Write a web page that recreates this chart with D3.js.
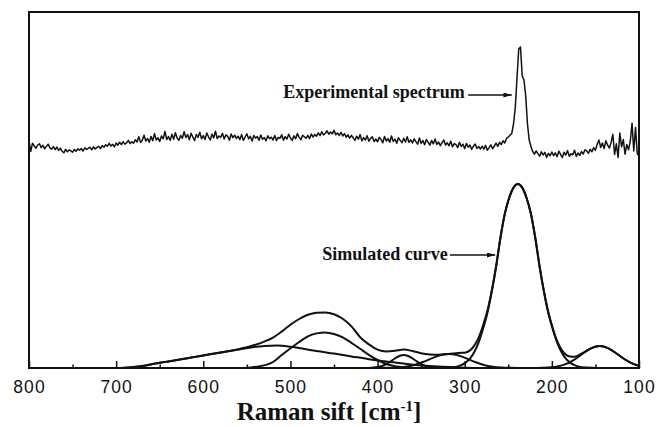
<!DOCTYPE html>
<html>
<head>
<meta charset="utf-8">
<script src="https://cdn.jsdelivr.net/npm/d3@7"></script>
<style>
  html, body { margin: 0; padding: 0; background: #fff; }
  svg { display: block; }
</style>
</head>
<body>
<svg id="chart" width="657" height="427"></svg>
<script>
// Measured Raman spectrum: shift grid (cm-1, 2 cm-1 steps) and intensity (a.u.)
const expShift = d3.range(800, 99, -2);
const expIntensity = [
  113.4,108.3,112.4,111.0,109.9,111.5,112.1,110.2,111.3,109.6,110.8,111.9,110.1,109.4,110.7,109.2,110.5,108.8,109.9,108.4,
  107.6,109.3,108.1,109.0,108.6,107.9,109.2,108.4,109.6,108.9,109.7,108.5,110.1,109.3,109.8,110.4,109.1,110.6,109.5,110.3,
  110.8,109.7,111.2,110.4,111.6,110.9,112.3,111.0,111.8,110.6,112.5,111.4,112.9,111.7,113.2,111.9,112.6,113.8,112.2,113.1,
  112.4,114.1,113.0,115.6,112.8,113.9,116.4,113.5,114.7,112.9,115.8,113.6,117.2,114.0,115.1,113.3,116.0,114.6,118.3,114.2,
  115.7,113.8,116.9,114.4,117.6,115.0,113.9,116.3,114.8,118.1,115.2,116.7,114.1,117.4,115.5,113.7,116.8,115.3,117.9,114.6,
  116.2,114.3,117.5,115.6,114.0,116.9,115.1,118.4,114.7,116.0,115.4,117.3,114.5,116.6,115.8,113.9,117.0,115.2,116.4,114.8,
  115.9,114.2,116.7,113.8,115.5,117.1,114.6,115.8,113.5,116.3,114.9,115.7,113.9,116.5,114.4,115.2,113.6,116.1,114.7,115.4,
  114.0,116.2,113.7,115.3,114.8,116.6,113.9,115.7,114.5,116.9,115.0,113.8,116.1,114.6,117.2,115.3,114.2,116.4,115.6,114.9,
  116.3,114.7,117.0,115.4,116.8,115.9,117.6,116.2,118.1,116.5,117.4,118.6,116.9,118.0,117.1,118.8,116.7,117.5,116.3,117.8,
  116.0,117.2,115.4,116.6,114.9,116.3,115.1,113.8,115.9,114.4,116.7,113.6,115.2,114.0,116.1,113.4,114.8,115.6,113.2,114.5,
  113.1,115.3,114.2,112.6,115.8,113.5,114.7,112.9,116.0,113.3,114.4,112.4,115.1,113.8,112.7,114.9,113.0,115.6,112.8,114.1,
  112.5,114.6,113.2,111.9,115.0,112.3,113.7,111.6,114.2,112.9,111.4,113.8,112.1,114.5,111.8,113.0,111.2,112.7,114.0,111.5,
  112.6,111.1,113.4,110.6,112.2,111.7,110.2,112.9,110.8,111.9,109.7,112.3,110.4,111.5,109.3,110.9,112.0,109.8,110.7,109.5,
  110.9,109.4,111.3,108.9,110.2,111.6,109.6,111.0,112.4,110.8,112.9,111.7,113.6,112.5,114.8,115.5,116.4,117.3,122.0,130.0,
  145.0,159.5,160.5,146.0,144.0,136.0,122.0,114.0,110.7,108.3,106.9,108.6,107.2,105.9,108.1,106.5,107.8,105.4,107.3,106.1,
  108.0,106.2,107.6,105.6,108.4,106.8,105.2,107.9,106.4,108.7,105.9,107.1,106.6,108.9,105.8,107.5,106.3,108.2,107.0,109.1,
  108.5,107.3,109.4,108.1,110.2,108.8,111.9,114.0,110.3,112.5,109.7,113.6,111.4,110.0,112.8,116.9,106.8,112.1,105.3,117.5,
  110.6,114.2,106.9,111.8,109.1,113.4,122.4,108.5,120.3,107.2,106.0
];

// Simulated curve (sum of the fitted bands), [shift, intensity]
const simTotal = [
  [800,0],[710,0],[700,0],[690,0.15],[680,0.5],[670,1.0],[660,1.8],[650,2.6],[640,3.3],[630,4.0],
  [620,4.8],[610,5.5],[600,6.3],[590,7.0],[580,7.8],[570,8.5],[560,9.3],[550,10.4],[540,11.6],[530,13.2],
  [520,15.2],[510,18.2],[500,21.6],[490,24.5],[480,26.6],[470,27.6],[460,27.8],[450,26.9],[440,24.6],[430,20.8],
  [420,15.4],[410,11.8],[400,9.2],[390,8.3],[380,8.6],[370,9.2],[360,8.5],[350,7.4],[340,6.8],[330,6.6],
  [320,7.0],[310,7.4],[304,7.6],[299,7.8],[294,8.8],[289,11.2],[284,15.2],[279,21.2],[274,28.6],[269,38.7],
  [264,50.9],[259,65.3],[254,77.2],[249,85.1],[244,90.2],[239,92.0],[234,90.2],[229,85.0],[224,77.0],[219,65.0],
  [214,50.6],[209,38.1],[204,27.7],[199,19.9],[194,13.5],[189,9.2],[184,6.7],[179,5.7],[174,5.6],[169,6.4],
  [164,7.65],[159,8.96],[154,10.1],[149,10.8],[145,11.0],[135,9.8],[125,7.0],[115,4.0],[105,1.8],[100,1.1]
];

// Fitted bands, [shift, intensity]
const bandBroad = [
  [720,0],[700,0],[685,0.3],[670,1.0],[655,2.2],[640,3.3],[620,4.8],[600,6.3],[580,7.8],[560,9.2],
  [545,10.3],[530,11.0],[515,11.2],[500,10.6],[485,9.6],[470,8.5],[450,7.2],[430,5.8],[410,4.4],[390,3.2],
  [370,2.2],[350,1.3],[330,0.7],[310,0.3],[290,0],[270,0]
];
const band460 = [
  [580,0],[560,0],[545,0.3],[535,0.9],[520,3.0],[510,6.5],[500,9.8],[490,13.0],[480,15.8],[470,17.3],
  [460,17.8],[450,17.0],[440,15.3],[430,12.6],[420,9.6],[410,6.6],[400,4.0],[390,2.0],[380,0.9],[370,0.3],
  [360,0],[340,0]
];
const band370 = [
  [420,0],[410,0.06],[400,0.45],[395,1.0],[390,2.0],[385,3.3],[380,4.8],[375,6.0],[370,6.5],[365,6.0],
  [360,4.8],[355,3.3],[350,2.0],[345,1.0],[340,0.45],[330,0.06],[320,0]
];
const band318 = [
  [398,0],[388,0.07],[378,0.23],[368,0.66],[358,1.54],[348,2.99],[338,4.80],[328,6.37],[318,7.0],[308,6.37],
  [298,4.80],[288,2.99],[278,1.54],[268,0.66],[258,0.23],[248,0.07],[238,0]
];
const band239 = [
  [339,0],[329,0],[319,0.2],[309,0.7],[304,1.4],[299,2.7],[294,4.7],[289,8.0],[284,12.8],[279,19.5],
  [274,27.5],[269,38.0],[264,50.5],[259,65.0],[254,77.0],[249,85.0],[244,90.2],[239,92.0],[234,90.2],[229,85.0],
  [224,77.0],[219,65.0],[214,50.5],[209,38.0],[204,27.5],[199,19.5],[194,12.8],[189,8.0],[184,4.7],[179,2.7],
  [174,1.4],[169,0.7],[159,0.2],[149,0],[139,0]
];
const band145 = [
  [225,0],[215,0.05],[205,0.19],[195,0.65],[185,1.79],[175,3.96],[165,6.99],[155,9.82],[145,11.0],[135,9.82],
  [125,6.99],[115,3.96],[105,1.79],[100,1.11]
];

const majorTicks = [800, 700, 600, 500, 400, 300, 200, 100];
const minorTicks = [750, 650, 550, 450, 350, 250, 150];

// Callouts: label end point and arrow from/to, in data units
const callouts = [
  { text: "Experimental spectrum", labelShift: 300, labelLevel: 134.8, fromShift: 296, toShift: 246, level: 136.5 },
  { text: "Simulated curve",       labelShift: 319.5, labelLevel: 54,  fromShift: 317, toShift: 265, level: 56.5 }
];

const svg = d3.select("#chart");
const x = d3.scaleLinear().domain([800, 100]).range([29, 639]);
const y = d3.scaleLinear().domain([0, 178]).range([368, 12]);

svg.append("rect").attr("width", 657).attr("height", 427).attr("fill", "#fff");

const defs = svg.append("defs");
defs.append("clipPath").attr("id", "plot-clip")
  .append("rect")
  .attr("x", x(800)).attr("y", y(178))
  .attr("width", x(100) - x(800)).attr("height", y(0) - y(178));

defs.append("marker")
  .attr("id", "arrowhead")
  .attr("viewBox", "0 0 10 6")
  .attr("refX", 10).attr("refY", 3)
  .attr("markerWidth", 9).attr("markerHeight", 5)
  .attr("markerUnits", "userSpaceOnUse")
  .attr("orient", "auto")
  .append("path").attr("d", "M0,0 L10,3 L0,6 Z").attr("fill", "#111");

const plot = svg.append("g").attr("clip-path", "url(#plot-clip)");

// measured spectrum
const expLine = d3.line()
  .x((d, i) => x(expShift[i]))
  .y(d => y(d));
plot.append("path")
  .datum(expIntensity)
  .attr("d", expLine)
  .attr("fill", "none")
  .attr("stroke", "#111")
  .attr("stroke-width", 1.5)
  .attr("stroke-linejoin", "round");

// fitted bands and their sum
const simLine = d3.line()
  .x(d => x(d[0]))
  .y(d => y(d[1]))
  .curve(d3.curveMonotoneX);
[bandBroad, band460, band370, band318, band239, band145, simTotal].forEach(series => {
  plot.append("path")
    .datum(series)
    .attr("d", simLine)
    .attr("fill", "none")
    .attr("stroke", "#111")
    .attr("stroke-width", 2)
    .attr("stroke-linejoin", "round");
});

// bottom axis with inward ticks
const axisG = svg.append("g").attr("transform", `translate(0,${y(0)})`);
axisG.call(d3.axisBottom(x).tickValues(majorTicks).tickSize(-7).tickSizeOuter(0).tickPadding(13).tickFormat(d3.format("d")));
axisG.select(".domain").remove();
axisG.selectAll(".tick line").attr("stroke", "#111").attr("stroke-width", 1.5);
axisG.selectAll(".tick text")
  .attr("fill", "#111")
  .style("font-family", "'Liberation Sans', Arial, sans-serif")
  .style("font-size", "17.5px")
  .style("letter-spacing", "1.1px");

const minorG = svg.append("g").attr("transform", `translate(0,${y(0)})`);
minorG.call(d3.axisBottom(x).tickValues(minorTicks).tickSize(-3.5).tickSizeOuter(0).tickFormat(""));
minorG.select(".domain").remove();
minorG.selectAll(".tick line").attr("stroke", "#111").attr("stroke-width", 1.5);

// frame
svg.append("rect")
  .attr("x", x(800)).attr("y", y(178))
  .attr("width", x(100) - x(800)).attr("height", y(0) - y(178))
  .attr("fill", "none")
  .attr("stroke", "#111")
  .attr("stroke-width", 2);

// callouts
callouts.forEach(c => {
  svg.append("text")
    .attr("x", x(c.labelShift)).attr("y", y(c.labelLevel))
    .attr("text-anchor", "end")
    .attr("fill", "#111")
    .style("font-family", "'Liberation Serif', 'Times New Roman', serif")
    .style("font-weight", "bold")
    .style("font-size", "18px")
    .text(c.text);
  svg.append("line")
    .attr("x1", x(c.fromShift)).attr("x2", x(c.toShift))
    .attr("y1", y(c.level)).attr("y2", y(c.level))
    .attr("stroke", "#111")
    .attr("stroke-width", 1.3)
    .attr("marker-end", "url(#arrowhead)");
});

// axis title
const title = svg.append("text")
  .attr("x", 329).attr("y", 420)
  .attr("text-anchor", "middle")
  .attr("fill", "#111")
  .style("font-family", "'Liberation Serif', 'Times New Roman', serif")
  .style("font-weight", "bold")
  .style("font-size", "25px");
title.append("tspan").text("Raman sift [cm");
title.append("tspan").attr("dy", -9).style("font-size", "15px").text("-1");
title.append("tspan").attr("dy", 9).text("]");
</script>
</body>
</html>
